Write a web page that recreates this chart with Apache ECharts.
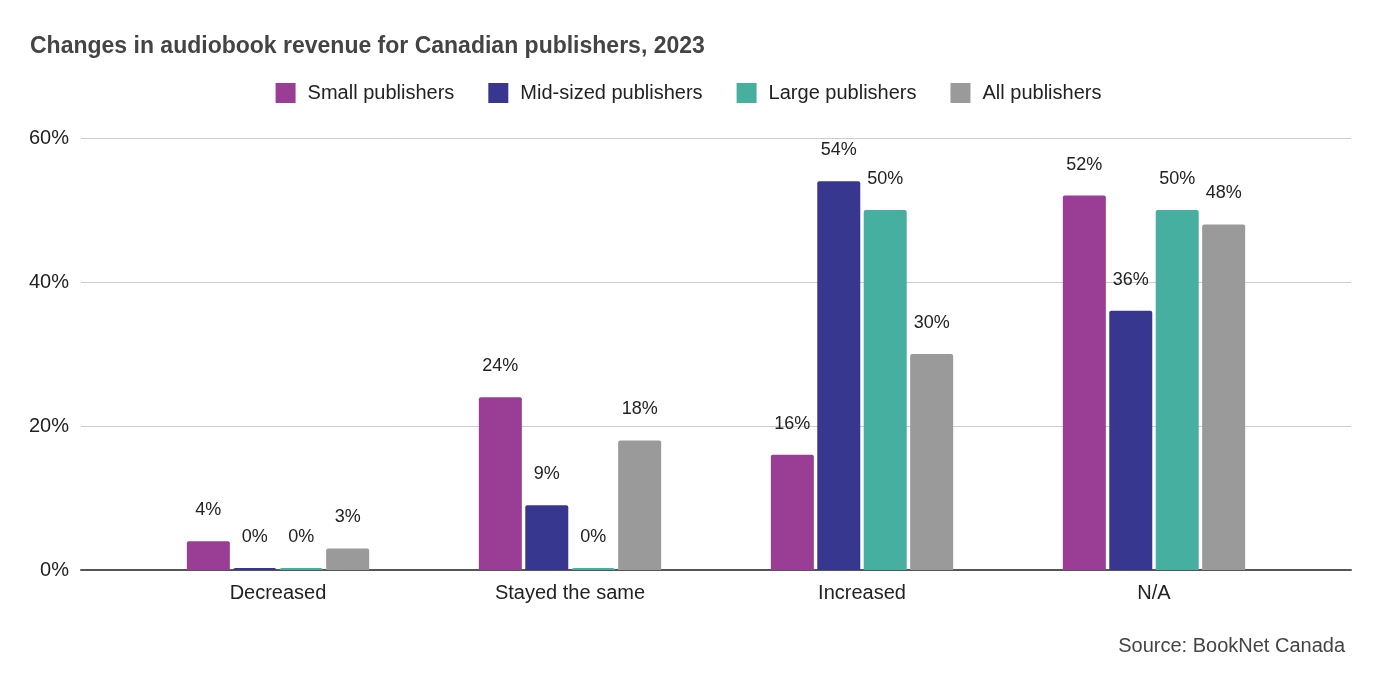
<!DOCTYPE html>
<html>
<head>
<meta charset="utf-8">
<script src="https://cdn.jsdelivr.net/npm/echarts@6/dist/echarts.min.js"></script>
<style>
  html, body { margin: 0; padding: 0; background: #fff; }
  #main { width: 1377px; height: 682px; }
</style>
</head>
<body>
<div id="main"></div>
<script>
var categories = ['Decreased', 'Stayed the same', 'Increased', 'N/A'];
var seriesNames = ['Small publishers', 'Mid-sized publishers', 'Large publishers', 'All publishers'];
var small = [4, 24, 16, 52];
var midSized = [0, 9, 54, 36];
var large = [0, 0, 50, 50];
var allPub = [3, 18, 30, 48];
var colors = ['#993d95', '#37378f', '#46afa0', '#9a9a9a'];

var font = '"Liberation Sans", Arial, sans-serif';

function barSeries(name, data) {
    return {
        name: name,
        type: 'bar',
        xAxisIndex: 1,
        yAxisIndex: 1,
        barWidth: 43,
        barGap: '8%',
        barMinHeight: 2,
        itemStyle: { borderRadius: [2, 2, 0, 0] },
        label: {
            show: true,
            position: 'top',
            distance: 22,
            formatter: '{c}%',
            fontFamily: font,
            fontSize: 18,
            color: '#222'
        },
        data: data
    };
}

var option = {
    color: colors,
    textStyle: { fontFamily: font },
    title: [
        {
            text: 'Changes in audiobook revenue for Canadian publishers, 2023',
            left: 25,
            top: 30,
            textStyle: { fontFamily: font, fontSize: 23, fontWeight: 'bold', color: '#444' }
        },
        {
            text: 'Source: BookNet Canada',
            right: 27,
            top: 631,
            textStyle: { fontFamily: font, fontSize: 20, fontWeight: 'normal', color: '#444' }
        }
    ],
    legend: {
        data: seriesNames,
        top: 78,
        left: 'center',
        itemWidth: 20,
        itemHeight: 20,
        itemGap: 34,
        icon: 'rect',
        itemStyle: { borderRadius: 2 },
        textStyle: { fontFamily: font, fontSize: 20, color: '#222', padding: [0, 0, 0, 7] }
    },
    grid: [
        { left: 81, right: 26, top: 138, bottom: 112 },
        { left: 132, width: 1168, top: 138, bottom: 112 }
    ],
    xAxis: [
        {
            gridIndex: 0,
            type: 'value',
            min: 0,
            max: 1,
            axisLine: { show: true, lineStyle: { color: '#555', width: 2 } },
            axisTick: { show: false },
            axisLabel: { show: false },
            splitLine: { show: false }
        },
        {
            gridIndex: 1,
            type: 'category',
            data: categories,
            axisLine: { show: false },
            axisTick: { show: false },
            axisLabel: { fontFamily: font, fontSize: 20, color: '#222', margin: 13 }
        }
    ],
    yAxis: [
        {
            gridIndex: 0,
            type: 'value',
            min: 0,
            max: 60,
            interval: 20,
            axisLine: { show: false },
            axisTick: { show: false },
            axisLabel: { formatter: '{value}%', fontFamily: font, fontSize: 20, color: '#222', margin: 12 },
            splitLine: { lineStyle: { color: '#cccccc', width: 1 } }
        },
        {
            gridIndex: 1,
            type: 'value',
            min: 0,
            max: 60,
            show: false,
            splitLine: { show: false }
        }
    ],
    series: [
        barSeries(seriesNames[0], small),
        barSeries(seriesNames[1], midSized),
        barSeries(seriesNames[2], large),
        barSeries(seriesNames[3], allPub)
    ]
};

var myChart = echarts.init(document.getElementById('main'));
myChart.setOption(option);
</script>
</body>
</html>
